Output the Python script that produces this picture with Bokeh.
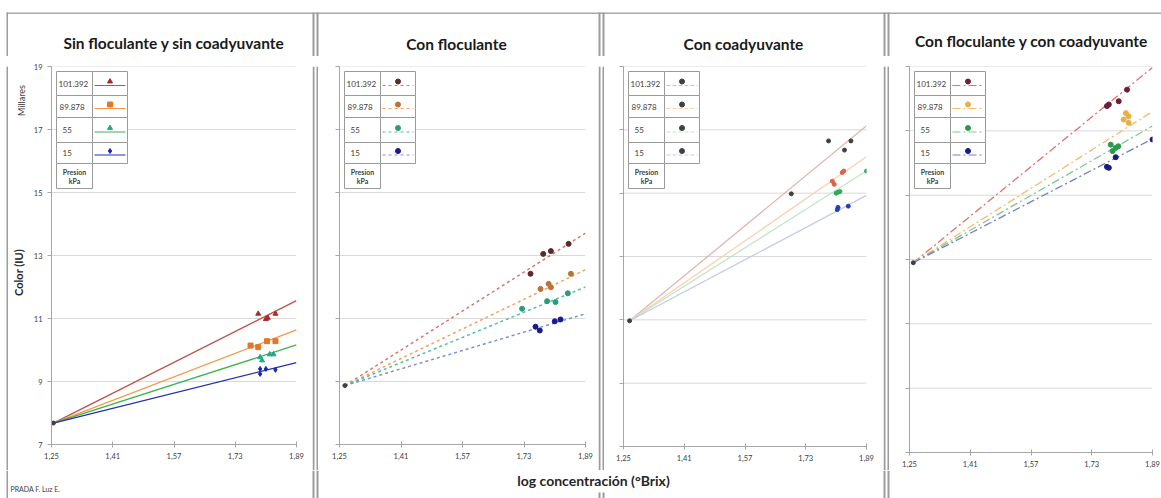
from bokeh.plotting import figure
from bokeh.layouts import row, column
from bokeh.models import Range1d, FixedTicker, CustomJSTickFormatter, Span
from bokeh.core.properties import value
from bokeh.embed import file_html
from bokeh.resources import INLINE

# ---------------- data ----------------
pressures = ["101.392", "89.878", "55", "15"]
pressure_header = ["Presion", "kPa"]
titles = ["Sin floculante y sin coadyuvante", "Con floculante",
          "Con coadyuvante", "Con floculante y con coadyuvante"]
x_ticks = [1.25, 1.41, 1.57, 1.73, 1.89]
y_ticks = [7, 9, 11, 13, 15, 17, 19]
x_end = 1.89

# Panel 1: Sin floculante y sin coadyuvante
p1_origin_x, p1_origin_y = 1.255, 7.68
p1_trend_end = [11.57, 10.64, 10.16, 9.60]
p1_x = [[1.79, 1.81, 1.815, 1.835], [1.77, 1.79, 1.813, 1.835],
        [1.795, 1.80, 1.82, 1.83], [1.795, 1.795, 1.81, 1.835]]
p1_y = [[11.15, 10.98, 11.02, 11.15], [10.14, 10.09, 10.28, 10.28],
        [9.77, 9.67, 9.86, 9.86], [9.40, 9.24, 9.40, 9.37]]

# Panel 2: Con floculante
p2_origin_x, p2_origin_y = 1.264, 8.87
p2_trend_end = [13.71, 12.55, 12.00, 11.15]
p2_x = [[1.747, 1.78, 1.80, 1.846], [1.773, 1.794, 1.80, 1.852],
        [1.725, 1.79, 1.812, 1.844], [1.76, 1.771, 1.81, 1.825]]
p2_y = [[12.42, 13.05, 13.14, 13.37], [11.94, 12.10, 11.99, 12.42],
        [11.31, 11.55, 11.52, 11.80], [10.74, 10.62, 10.91, 10.97]]

# Panel 3: Con coadyuvante
p3_origin_x, p3_origin_y = 1.266, 10.97
p3_trend_end = [17.13, 16.15, 15.70, 14.93]
p3_x = [[1.692, 1.79, 1.832, 1.849], [1.80, 1.805, 1.826, 1.83],
        [1.81, 1.815, 1.82, 1.89], [1.813, 1.815, 1.842]]
p3_y = [[14.98, 16.65, 16.36, 16.65], [15.38, 15.28, 15.65, 15.70],
        [15.00, 15.03, 15.05, 15.70], [14.48, 14.55, 14.59]]

# Panel 4: Con floculante y con coadyuvante
p4_origin_x, p4_origin_y = 1.26, 12.90
p4_trend_end = [18.97, 17.60, 17.15, 16.75]
p4_x = [[1.77, 1.775, 1.801, 1.823], [1.814, 1.82, 1.827, 1.827],
        [1.78, 1.785, 1.793, 1.80], [1.77, 1.775, 1.793, 1.89]]
p4_y = [[17.77, 17.82, 17.92, 18.28], [17.35, 17.55, 17.45, 17.25],
        [16.57, 16.37, 16.47, 16.52], [15.88, 15.85, 16.18, 16.73]]

X0, X1 = 1.25, 1.89
Y0, Y1 = 7, 19
FONT = "Lato"

SEP = "#9c9c9c"
TOP_H = 56
BOT_H = 28
ROW_H = 498 - TOP_H - BOT_H  # 414
LEFT_W = 28


def make_panel(left, fw, right, frame_top, fh, show_y):
    top = frame_top - TOP_H
    bottom = ROW_H - top - fh
    p = figure(frame_width=fw, frame_height=fh,
               min_border_left=left, min_border_right=right,
               min_border_top=top, min_border_bottom=bottom,
               x_range=Range1d(X0, X1), y_range=Range1d(Y0, Y1),
               toolbar_location=None, output_backend="svg")
    p.outline_line_color = None
    p.background_fill_color = "white"
    p.border_fill_color = "white"
    p.xgrid.visible = False
    p.ygrid.visible = False
    for t in y_ticks[1:]:
        p.add_layout(Span(location=t, dimension="width", line_color="#d9d9d9",
                          line_width=1, level="underlay"))
    p.xaxis.ticker = FixedTicker(ticks=x_ticks)
    p.yaxis.ticker = FixedTicker(ticks=y_ticks)
    p.xaxis.formatter = CustomJSTickFormatter(code="return tick.toFixed(2).replace('.', ',');")
    for ax in (p.xaxis[0], p.yaxis[0]):
        ax.axis_line_color = "#a6a6a6"
        ax.major_tick_line_color = "#a6a6a6"
        ax.minor_tick_line_color = None
        ax.major_label_text_font = FONT
        ax.major_label_text_font_size = "7.5px"
        ax.major_label_text_color = "#404040"
    p.xaxis.major_tick_in = 3
    p.xaxis.major_tick_out = 3
    p.xaxis.major_label_standoff = 5
    p.yaxis.major_tick_in = 0
    p.yaxis.major_tick_out = 4
    if show_y:
        p.yaxis.major_label_standoff = 5
    else:
        p.yaxis.major_label_overrides = {t: "" for t in y_ticks}
        p.yaxis.major_label_standoff = 0
    return p


def draw_series(p, ox, oy, ends, xs, ys, line_colors, line_dash, line_width,
                line_alpha, point_colors, markers, psize):
    for i in range(4):
        p.line([ox, x_end], [oy, ends[i]], line_color=line_colors[i],
               line_dash=line_dash, line_width=line_width, line_alpha=line_alpha)
    for i in range(4):
        p.scatter(xs[i], ys[i], marker=markers[i], size=psize,
                  fill_color=point_colors[i], line_color=point_colors[i])
    p.scatter([ox], [oy], marker="circle", size=4, fill_color="#404040",
              line_color="#404040")


def draw_legend(p, fw, fh, line_colors, point_colors, markers, dash, lw, alpha):
    def fx(o):
        return X0 + o / fw * (X1 - X0)

    def fy(o):
        return Y1 - o / fh * (Y1 - Y0)

    rows = [5, 29, 51, 76, 97, 122]
    c0, c1, c2 = 5, 41, 76
    p.quad(left=[fx(c0)] * 5, right=[fx(c1)] * 5,
           top=[fy(r) for r in rows[:5]], bottom=[fy(r) for r in rows[1:]],
           fill_color="white", line_color="#9a9a9a", line_width=1)
    p.quad(left=[fx(c1)] * 4, right=[fx(c2)] * 4,
           top=[fy(r) for r in rows[:4]], bottom=[fy(r) for r in rows[1:5]],
           fill_color="white", line_color="#9a9a9a", line_width=1)
    offs = [7, 8, 11, 11]
    p.text(x=[fx(o) for o in offs],
           y=[fy((rows[i] + rows[i + 1]) / 2) for i in range(4)],
           text=pressures, text_font=value(FONT), text_font_size="8px",
           text_baseline="middle", text_align="left", text_color="#404040")
    p.text(x=[fx((c0 + c1) / 2)] * 2, y=[fy(105), fy(114)], text=pressure_header,
           text_font=value(FONT), text_font_size="7px", text_font_style="bold",
           text_baseline="middle", text_align="center", text_color="#404040")
    for i in range(4):
        cy = (rows[i] + rows[i + 1]) / 2
        p.line([fx(43), fx(74)], [fy(cy + 2), fy(cy + 2)], line_color=line_colors[i],
               line_dash=dash, line_width=lw, line_alpha=alpha)
        p.scatter([fx(58.5)], [fy(cy - 2)], marker=markers[i], size=5,
                  fill_color=point_colors[i], line_color=point_colors[i])


def strip(w, h):
    f = figure(frame_width=w, frame_height=h, min_border=0,
               x_range=Range1d(0, w), y_range=Range1d(0, h),
               x_axis_type=None, y_axis_type=None, toolbar_location=None,
               output_backend="svg")
    f.outline_line_color = None
    f.background_fill_color = "white"
    f.border_fill_color = "white"
    return f


def vbars(f, h, lefts, rights, y_top, y_bot, color):
    n = len(lefts)
    f.quad(left=lefts, right=rights, top=[h - y_top] * n, bottom=[h - y_bot] * n,
           fill_color=color, line_color=None)


def separator(h):
    f = strip(6, h)
    vbars(f, h, [0, 4], [2, 6], 0, h, SEP)
    return f


# panel 1
p1 = make_panel(51 - LEFT_W, 245, 16, 66, 378, True)
c1_lines = ["#c0504d", "#f79646", "#3cb44b", "#2233aa"]
c1_pts = ["#a12e2b", "#e0782a", "#1fa88a", "#1a2aa8"]
m1 = ["triangle", "square", "triangle", "diamond"]
draw_series(p1, p1_origin_x, p1_origin_y, p1_trend_end, p1_x, p1_y,
            c1_lines, "solid", 1.3, 1.0, c1_pts, m1, 5)
draw_legend(p1, 245, 378, c1_lines, c1_pts, m1, "solid", 1.2, 1.0)

# panel 2
p2 = make_panel(21, 246, 13, 66, 378, False)
c2_lines = ["#d9776f", "#f4a460", "#4fc0a0", "#7f8fd8"]
c2_pts = ["#5c2a2a", "#b8733a", "#2a9d78", "#1a1a8c"]
m2 = ["circle"] * 4
draw_series(p2, p2_origin_x, p2_origin_y, p2_trend_end, p2_x, p2_y,
            c2_lines, "3 3", 1.5, 1.0, c2_pts, m2, 5)
draw_legend(p2, 246, 378, c2_lines, c2_pts, m2, "3 3", 1.2, 1.0)

# panel 3
p3 = make_panel(19, 243, 17, 65, 380, False)
c3_lines = ["#e2b4b3", "#f8d2b0", "#c4e4c4", "#c5cbe8"]
c3_pts = ["#404040", "#e0604a", "#2eaa5a", "#1f3fc0"]
m3 = ["circle"] * 4
draw_series(p3, p3_origin_x, p3_origin_y, p3_trend_end, p3_x, p3_y,
            c3_lines, "solid", 1.3, 1.0, c3_pts, m3, 4)
draw_legend(p3, 243, 380, c3_lines, ["#404040"] * 4, m3, "4 2", 1.0, 1.0)

# panel 4
p4 = make_panel(20, 243, 9, 62, 386, False)
c4_lines = ["#e07070", "#f2bd6a", "#7ec890", "#7080c8"]
c4_pts = ["#6a1f3a", "#e8b040", "#2a9a4a", "#1a1a80"]
m4 = ["circle"] * 4
draw_series(p4, p4_origin_x, p4_origin_y, p4_trend_end, p4_x, p4_y,
            c4_lines, "8 3 2 3", 1.3, 1.0, c4_pts, m4, 5)
draw_legend(p4, 243, 386, c4_lines, c4_pts, m4, "8 3 2 3", 1.0, 1.0)

# left edge strip: border line + y-axis titles
left_edge = strip(LEFT_W, ROW_H)
vbars(left_edge, ROW_H, [6], [7.5], 0, ROW_H, SEP)
left_edge.text(x=[21], y=[ROW_H - (90 - TOP_H)], text=["Millares"], angle=1.5708,
               text_font=value(FONT), text_font_size="9px", text_align="center",
               text_baseline="middle", text_color="#404040")
left_edge.text(x=[18], y=[ROW_H - (262 - TOP_H)], text=["Color (IU)"], angle=1.5708,
               text_font=value(FONT), text_font_size="11px", text_font_style="bold",
               text_align="center", text_baseline="middle", text_color="#262626")

# top strip: border lines + panel titles
top = strip(1161, TOP_H)
top.quad(left=[6], right=[1161], top=[TOP_H - 12], bottom=[TOP_H - 13.5],
         fill_color="#a8a8a8", line_color=None)
vbars(top, TOP_H, [6, 312, 316, 598, 602, 883, 887], [7.5, 314, 318, 600, 604, 885, 889],
      12, TOP_H, SEP)
top.text(x=[173.5, 456, 743, 1031], y=[TOP_H - 42, TOP_H - 43, TOP_H - 43, TOP_H - 40],
         text=titles, text_font=value(FONT), text_font_size="15.5px",
         text_font_style="bold", text_align="center", text_baseline="middle",
         text_color="#1a1a1a")

# bottom strip
bot = strip(1161, BOT_H)
vbars(bot, BOT_H, [6, 312, 316, 883, 887], [7.5, 314, 318, 885, 889], 0, BOT_H, SEP)
vbars(bot, BOT_H, [598, 602], [600, 604], 22, BOT_H, SEP)
bot.text(x=[593], y=[BOT_H - 10], text=["log concentración (°Brix)"], text_font=value(FONT),
         text_font_size="14px", text_font_style="bold", text_align="center",
         text_baseline="middle", text_color="#262626")
bot.text(x=[10], y=[BOT_H - 18], text=["PRADA F. Luz E."], text_font=value(FONT),
         text_font_size="7px", text_align="left", text_baseline="middle",
         text_color="#404040")

layout = column(top,
                row(left_edge, p1, separator(ROW_H), p2, separator(ROW_H), p3,
                    separator(ROW_H), p4),
                bot)

open("out.html", "w").write(file_html(layout, INLINE))
